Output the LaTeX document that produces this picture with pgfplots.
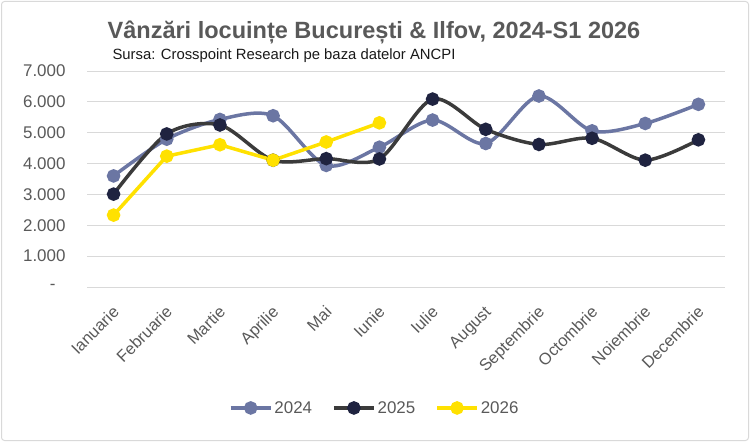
\documentclass[border=0pt]{standalone}
\usepackage{pgfplots}
\pgfplotsset{compat=1.18}
\usepackage{fontspec}
\setmainfont{Liberation Sans}
\definecolor{c24}{HTML}{6B76A3}
\definecolor{c25l}{HTML}{3B3B3B}
\definecolor{c25m}{HTML}{1F2340}
\definecolor{c26}{HTML}{FFE100}
\definecolor{txt}{HTML}{595959}
\definecolor{gridc}{HTML}{D9D9D9}
\begin{document}
\begin{tikzpicture}
\useasboundingbox (0bp,0bp) rectangle (750bp,442bp);
\draw[gridc, line width=1bp, rounded corners=3bp] (1.5bp,1.5bp) rectangle (748.5bp,440.5bp);
\node[anchor=center, text=txt, font=\fontsize{23.6}{27}\selectfont\bfseries] at (374bp,410bp) {Vânzări locuințe București \& Ilfov, 2024-S1 2026};
\node[anchor=west, text=black!90, font=\fontsize{14.9}{17}\selectfont] at (109bp,386bp) {Sursa: Crosspoint Research pe baza datelor ANCPI};
\begin{axis}[
  at={(87bp,155bp)}, anchor=south west, scale only axis,
  width=638bp, height=216bp,
  xmin=-0.5, xmax=11.5, ymin=0, ymax=7000,
  axis line style={draw=none},
  major tick length=0pt,
  ymajorgrids, grid style={gridc, line width=1bp},
  xtick={0,...,11},
  xticklabels={Ianuarie,Februarie,Martie,Aprilie,Mai,Iunie,Iulie,August,Septembrie,Octombrie,Noiembrie,Decembrie},
  ytick={0,1000,2000,3000,4000,5000,6000,7000},
  yticklabels={-\kern10bp,1.000,2.000,3.000,4.000,5.000,6.000,7.000},
  tick label style={text=txt},
  yticklabel style={font=\fontsize{17}{20}\selectfont, xshift=-18bp},
  xticklabel style={font=\fontsize{16.5}{19}\selectfont, xshift=-2bp, yshift=-13bp, rotate=45, anchor=north east},
  legend style={at={(0.451,-0.56)}, anchor=center, legend columns=3, draw=none, fill=none,
    font=\fontsize{17}{20}\selectfont, text=txt,
    /tikz/every even column/.append style={column sep=18bp}},
  legend image code/.code={\draw[#1, mark repeat=2, mark phase=2] plot coordinates {(0bp,0bp) (20bp,0bp) (40bp,0bp)};},
]
\addplot[c24, line width=3.5bp, smooth, tension=0.5, mark=*, mark size=5bp, mark options={fill=c24, draw=c24}]
coordinates {(0,3600) (1,4790) (2,5430) (3,5550) (4,3940) (5,4530) (6,5410) (7,4650) (8,6190) (9,5060) (10,5300) (11,5920)};
\addlegendentry{2024}
\addplot[c25l, line width=3.5bp, smooth, tension=0.5, mark=*, mark size=5bp, mark options={fill=c25m, draw=c25m}]
coordinates {(0,3010) (1,4960) (2,5250) (3,4110) (4,4160) (5,4150) (6,6090) (7,5110) (8,4620) (9,4820) (10,4110) (11,4770)};
\addlegendentry{2025}
\addplot[c26, line width=3.5bp, mark=*, mark size=5bp, mark options={fill=c26, draw=c26}]
coordinates {(0,2330) (1,4240) (2,4610) (3,4110) (4,4700) (5,5320)};
\addlegendentry{2026}
\end{axis}
\end{tikzpicture}
\end{document}
